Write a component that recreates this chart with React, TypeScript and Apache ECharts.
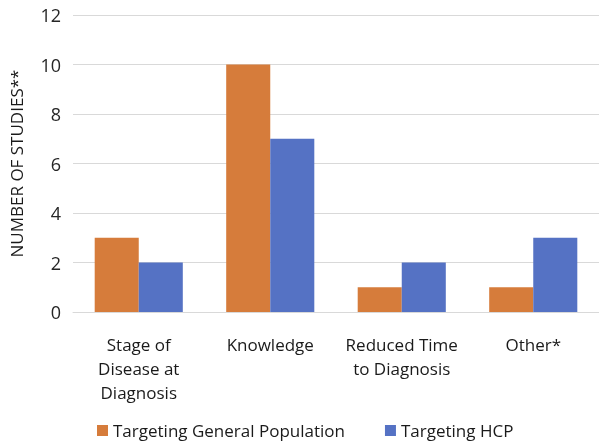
import React, { useEffect, useRef } from "react";
import * as echarts from "echarts";

const categories = ["Stage of\nDisease at\nDiagnosis", "Knowledge", "Reduced Time\nto Diagnosis", "Other*"];
const generalPopulation = [3, 10, 1, 1];
const hcp = [2, 7, 2, 3];
const seriesNames = ["Targeting General Population", "Targeting HCP"];

export default function App() {
  const ref = useRef<HTMLDivElement>(null);
  useEffect(() => {
    const chart = echarts.init(ref.current!, null, { renderer: "svg" });
    const font = "'Open Sans', 'Noto Sans', sans-serif";
    chart.setOption({
      animation: false,
      textStyle: { fontFamily: font },
      grid: { left: 73, right: 0, top: 15, bottom: 131 },
      legend: {
        top: 422,
        left: 97,
        padding: 0,
        itemWidth: 11,
        itemHeight: 11,
        itemGap: 40,
        icon: "rect",
        textStyle: { fontSize: 17, color: "#1a1a1a", fontFamily: font },
        data: seriesNames,
      },
      xAxis: {
        type: "category",
        data: categories,
        axisTick: { show: false },
        axisLine: { lineStyle: { color: "#d9d9d9" } },
        axisLabel: { fontSize: 17, color: "#1a1a1a", margin: 20, lineHeight: 24, interval: 0, fontFamily: font },
      },
      yAxis: {
        type: "value",
        min: 0,
        max: 12,
        interval: 2,
        name: "NUMBER OF STUDIES**",
        nameLocation: "middle",
        nameGap: 48,
        nameTextStyle: { fontSize: 17, color: "#1a1a1a", fontFamily: font },
        axisLabel: { fontSize: 18, color: "#262626", margin: 12, fontFamily: font },
        splitLine: { lineStyle: { color: "#d9d9d9" } },
      },
      series: [
        {
          name: seriesNames[0],
          type: "bar",
          data: generalPopulation,
          itemStyle: { color: "#D67C3B" },
          barGap: "0%",
          barCategoryGap: "33%",
        },
        {
          name: seriesNames[1],
          type: "bar",
          data: hcp,
          itemStyle: { color: "#5572C4" },
          barGap: "0%",
          barCategoryGap: "33%",
        },
      ],
    });
    return () => chart.dispose();
  }, []);
  return <div ref={ref} style={{ position: "fixed", left: 0, top: 0, width: 599, height: 443 }} />;
}
